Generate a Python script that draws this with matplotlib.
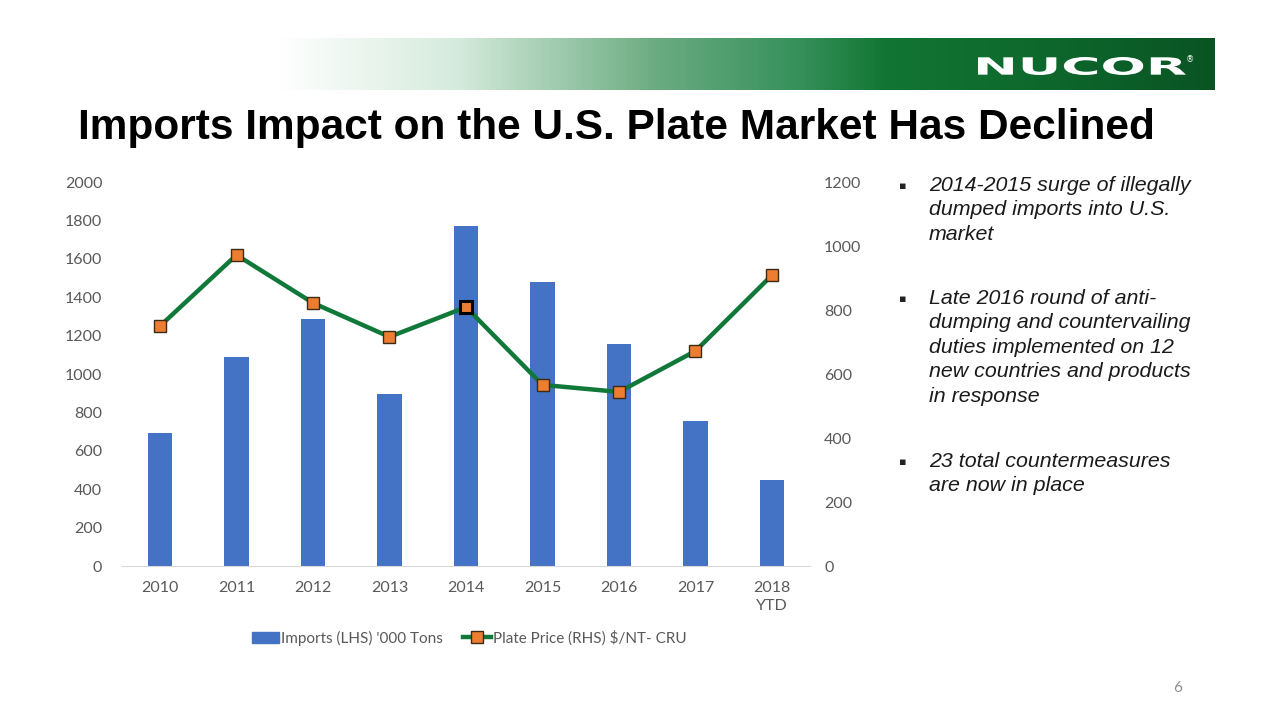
import numpy as np
import matplotlib
matplotlib.use("Agg")
import matplotlib.pyplot as plt
from matplotlib.colors import LinearSegmentedColormap
from matplotlib.lines import Line2D
from matplotlib.patches import Patch, PathPatch
from matplotlib.textpath import TextPath
from matplotlib.font_manager import FontProperties
from matplotlib.transforms import Affine2D

# data
years = ["2010", "2011", "2012", "2013", "2014", "2015", "2016", "2017", "2018\nYTD"]
imports = [695, 1088, 1286, 896, 1771, 1479, 1156, 755, 448]
price = [750, 972, 822, 716, 809, 566, 544, 672, 909]

bullets = [
    "2014-2015 surge of illegally\ndumped imports into U.S.\nmarket",
    "Late 2016 round of anti-\ndumping and countervailing\nduties implemented on 12\nnew countries and products\nin response",
    "23 total countermeasures\nare now in place",
]

W, H = 1280, 720
fig = plt.figure(figsize=(12.8, 7.2), dpi=100)

# green banner at top
ban = fig.add_axes([275 / W, 1 - 90 / H, (1215 - 275) / W, 52 / H])
cmap = LinearSegmentedColormap.from_list("ban", [
    (0.0, "#ffffff"), (0.19, "#d6ebdd"), (0.41, "#6aaa80"),
    (0.56, "#35905a"), (0.65, "#127534"), (0.8, "#0e6a2d"), (1.0, "#0a5424")])
ban.imshow(np.linspace(0, 1, 400)[None, :], aspect="auto", cmap=cmap)
ban.axis("off")

# NUCOR logo, stretched
logo = fig.add_axes([0, 0, 1, 1], facecolor="none")
logo.set_xlim(0, W)
logo.set_ylim(0, H)
logo.axis("off")
tp = TextPath((0, 0), "NUCOR", size=24, prop=FontProperties(family="DejaVu Sans", weight="heavy"))
ext = tp.get_extents()
sx = (1186 - 978) / ext.width
sy = 18 / ext.height
tr = Affine2D().translate(-ext.x0, -ext.y0).scale(sx, sy).translate(978, H - 75)
logo.add_patch(PathPatch(tr.transform_path(tp), fc="white", ec="none"))
logo.text(1190, H - 60, "®", color="white", fontsize=6, ha="center", va="center")

# title
fig.text(78 / W, 1 - 128 / H, "Imports Impact on the U.S. Plate Market Has Declined",
         fontsize=30.5, fontweight="bold", family="Liberation Sans", va="center", ha="left")

# chart
gray = "#595959"
ax = fig.add_axes([121.75 / W, 1 - 566 / H, 688.5 / W, 384 / H])
x = np.arange(len(years))
ax.bar(x, imports, width=0.32, color="#4472C4", zorder=2)
ax.set_xlim(-0.5, len(years) - 0.5)
ax.set_ylim(0, 2000)
ax.set_yticks(range(0, 2001, 200))
ax.set_xticks(x)
ax.set_xticklabels(years, linespacing=1.3)
for s in ["top", "right", "left"]:
    ax.spines[s].set_visible(False)
ax.spines["bottom"].set_color("#d9d9d9")
ax.tick_params(length=0, labelsize=11.5, labelcolor=gray, pad=14)
ax.tick_params(axis="x", pad=11)

ax2 = ax.twinx()
ax2.plot(x, price, color="#10793A", lw=3.2, marker="s", ms=8.5,
         mfc="#ED7D31", mec="#3b2a14", mew=1, zorder=3)
ax2.plot(x[4], price[4], marker="s", ms=8.5, mfc="#ED7D31", mec="black", mew=2.2, zorder=4)
ax2.set_ylim(0, 1200)
ax2.set_yticks(range(0, 1201, 200))
for s in ["top", "right", "left", "bottom"]:
    ax2.spines[s].set_visible(False)
ax2.tick_params(length=0, labelsize=11.5, labelcolor=gray, pad=10)

for a in (ax, ax2):
    for lab in a.get_xticklabels() + a.get_yticklabels():
        lab.set_family("Lato")

handles = [Patch(color="#4472C4"),
           Line2D([], [], color="#10793A", lw=3.2, marker="s", ms=8.5, mfc="#ED7D31", mec="#3b2a14")]
fig.legend(handles, ["Imports (LHS) '000 Tons", "Plate Price (RHS) $/NT- CRU"],
           loc="center", bbox_to_anchor=(469 / W, 1 - 638 / H), ncol=2, frameon=False,
           prop={"family": "Lato", "size": 11}, labelcolor=gray, handlelength=1.8,
           handletextpad=0.15, columnspacing=1.3)

# bullets
ys = [186, 299, 462]
for yy, t in zip(ys, bullets):
    fig.text(903 / W, 1 - yy / H, "▪", fontsize=8, family="DejaVu Sans", va="center", ha="center",
             color="#222222")
    fig.text(929 / W, 1 - (yy - 10) / H, t, fontsize=15.4, style="italic",
             family="Liberation Sans", va="top", ha="left", linespacing=1.36, color="#1a1a1a")

fig.text(1178 / W, 1 - 688 / H, "6", fontsize=11, color="#8c8c8c", family="Lato", ha="center", va="center")

fig.savefig("out.png", dpi=100)
